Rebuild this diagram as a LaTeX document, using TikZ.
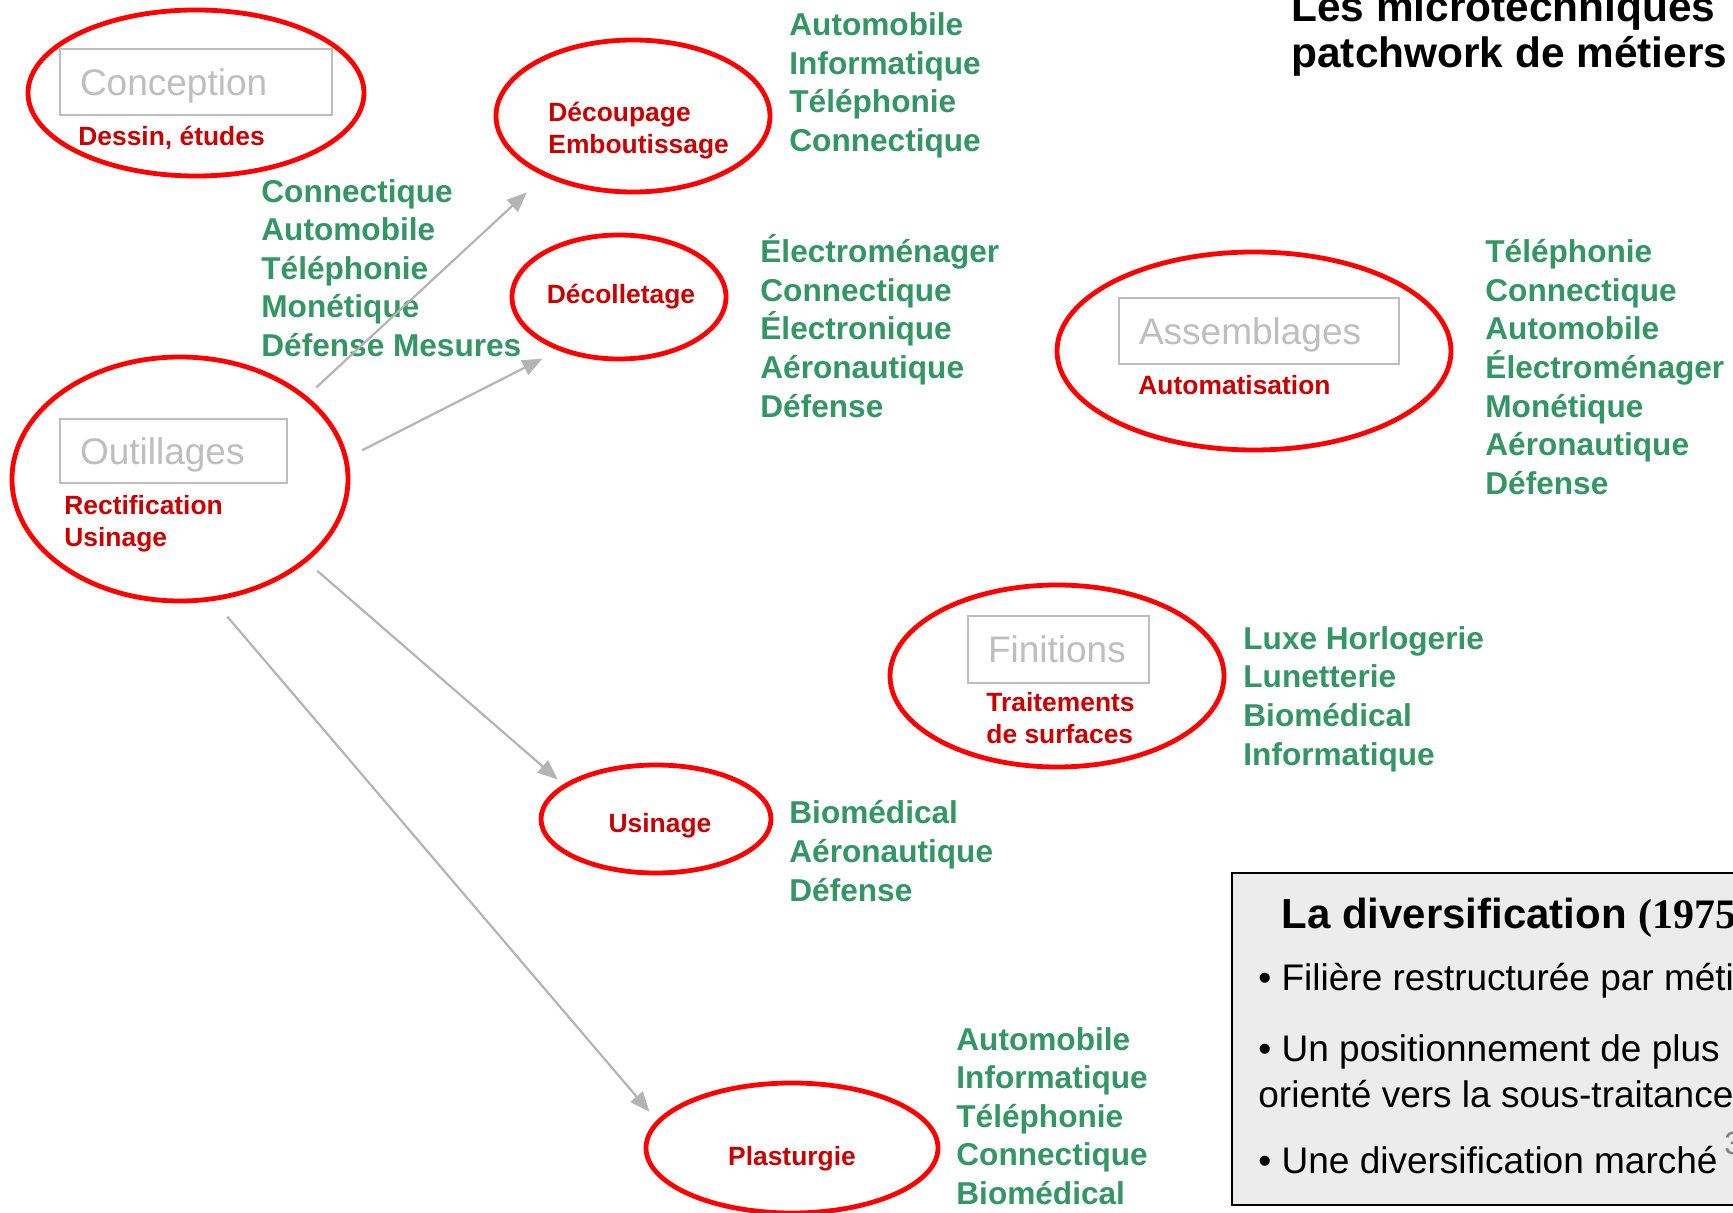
\documentclass[tikz,border=0pt]{standalone}
\usepackage{fontspec}
\setmainfont{Liberation Sans}
\newfontfamily\timesfont{Liberation Serif}
\usetikzlibrary{arrows.meta, shapes.geometric}

\definecolor{ringred}{RGB}{255,0,0}
\definecolor{labred}{RGB}{200,0,0}
\definecolor{listgreen}{RGB}{51,150,100}
\definecolor{boxgray}{RGB}{190,190,190}
\definecolor{arrowgray}{RGB}{180,180,180}
\definecolor{panelgray}{RGB}{236,236,236}

\begin{document}
\begin{tikzpicture}[x=0.5pt, y=-0.5pt,
  ring/.style={ellipse, draw=ringred, line width=2.4pt, inner sep=0pt, outer sep=0pt},
  trade/.style={draw=boxgray, line width=1pt, text=boxgray, anchor=west, inner xsep=10pt, inner ysep=0pt, align=left, text depth=0pt, font=\fontsize{18.5}{20}\selectfont},
  sub/.style={text=labred, font=\bfseries\fontsize{13.2}{16}\selectfont, align=left, inner sep=0pt},
  market/.style={text=listgreen, font=\bfseries\fontsize{15.8}{19.3}\selectfont, align=left, anchor=west, inner sep=0pt},
  point/.style={anchor=west, inner sep=0pt, align=left, font=\fontsize{18.5}{23}\selectfont},
  link/.style={draw=arrowgray, line width=1.1pt, -{Triangle[length=10pt, width=8pt]}}
]
  \fill[white] (0,0) rectangle (1733,1213);
  \useasboundingbox (0,0) rectangle (1733,1213);
  \clip (0,0) rectangle (1733,1213);

  % metiers
  \node[ring, minimum width=168pt, minimum height=83pt] (conc) at (196,93) {};
  \node[trade, minimum height=33pt, text width=116pt] (concbox) at (59,82) {Conception};
  \node[sub, anchor=west] (concsub) at (78,138) {Dessin, études};

  \node[ring, minimum width=168pt, minimum height=122pt] (outil) at (180,479) {};
  \node[trade, minimum height=32pt, text width=93.5pt] (outilbox) at (59,451) {Outillages};
  \node[sub, anchor=west] (outilsub) at (64,524) {Rectification\\Usinage};

  \node[ring, minimum width=137pt, minimum height=76pt] (decoup) at (633,116) {};
  \node[sub, anchor=west] (decoupsub) at (548,131) {Découpage\\Emboutissage};

  \node[ring, minimum width=107pt, minimum height=62pt] (decol) at (619,297) {};
  \node[sub] (decolsub) at (621,297) {Décolletage};

  \node[ring, minimum width=197pt, minimum height=99pt] (assem) at (1254,351) {};
  \node[trade, minimum height=33pt, text width=120pt] (assembox) at (1118,331) {Assemblages};
  \node[sub, anchor=west] (assemsub) at (1138,385) {Automatisation};

  \node[ring, minimum width=167pt, minimum height=91pt] (finit) at (1057,676) {};
  \node[trade, minimum height=33.5pt, text width=70.5pt] (finitbox) at (967,649) {Finitions};
  \node[sub, anchor=west] (finitsub) at (986,718) {Traitements\\de surfaces};

  \node[ring, minimum width=115pt, minimum height=54pt] (usin) at (656,819) {};
  \node[sub] (usinsub) at (660,826) {Usinage};

  \node[ring, minimum width=146pt, minimum height=65pt] (plast) at (792,1148) {};
  \node[sub] (plastsub) at (792,1159) {Plasturgie};

  % marches
  \node[market] (mkoutil) at (261,268) {Connectique\\Automobile\\Téléphonie\\Monétique\\Défense Mesures};
  \node[market] (mkdecoup) at (789,85.5) {Automobile\\Informatique\\Téléphonie\\Connectique};
  \node[market] (mkdecol) at (760,326) {Électroménager\\Connectique\\Électronique\\Aéronautique\\Défense};
  \node[market] (mkassem) at (1485,367) {Téléphonie\\Connectique\\Automobile\\Électroménager\\Monétique\\Aéronautique\\Défense};
  \node[market] (mkfinit) at (1243,699) {Luxe Horlogerie\\Lunetterie\\Biomédical\\Informatique};
  \node[market] (mkusin) at (789,851) {Biomédical\\Aéronautique\\Défense};
  \node[market] (mkplast) at (956,1116) {Automobile\\Informatique\\Téléphonie\\Connectique\\Biomédical};

  \draw[link, shorten <=7.5pt, shorten >=13pt] (outil.33) -- (decoup.214);
  \draw[link, shorten <=9.2pt, shorten >=10.5pt] (outil.7.5) -- (decol.222.6);
  \draw[link, shorten <=8pt, shorten >=4.9pt] (outil.327) -- (usin.160.4);
  \draw[link, shorten <=11.7pt, shorten >=6.7pt] (outil.285) -- (plast.169.7);

  % titre et encadre
  \node[anchor=west, inner sep=0pt, align=left, font=\bfseries\fontsize{21.2}{23}\selectfont] (title) at (1291,33.5) {Les microtechniques\\patchwork de métiers};

  \node[draw=black, line width=1pt, fill=panelgray, anchor=north west, inner sep=0pt, minimum width=257pt, minimum height=166pt] (panel) at (1231,872) {};
  \node[anchor=west, inner sep=0pt, font=\bfseries\fontsize{21}{23}\selectfont] (head) at (1281,918) {La diversification {\timesfont(1975}};
  \node[point] (p1) at (1258,981) {• Filière restructurée par métiers};
  \node[point] (p2) at (1258,1071) {• Un positionnement de plus\\orienté vers la sous-traitance};
  \node[point] (p3) at (1258,1160) {• Une diversification marché};
  \node[anchor=west, inner sep=0pt, text=gray, font=\fontsize{16}{18}\selectfont] (pgnum) at (1724,1143) {3};
\end{tikzpicture}
\end{document}
